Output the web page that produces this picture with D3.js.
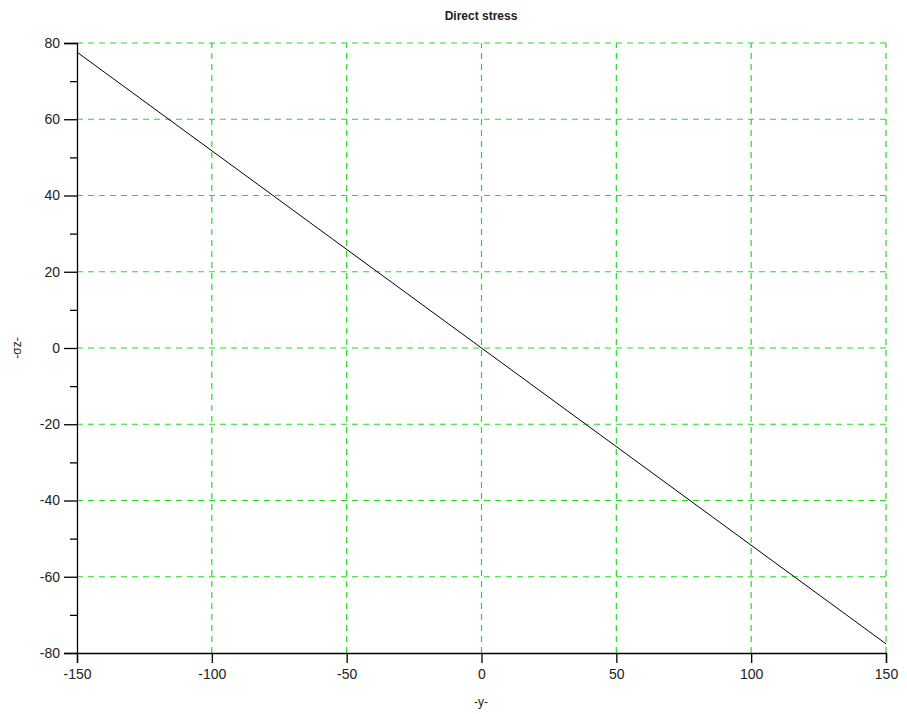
<!DOCTYPE html>
<html><head><meta charset="utf-8">
<script src="https://cdn.jsdelivr.net/npm/d3@7"></script>
<style>body{margin:0;background:#fff}svg{display:block}</style>
</head><body>
<svg id="c" width="907" height="714"></svg>
<script>
const yPos = [-150, 150];
const sigma = [77.6, -77.6];
const xTicks = [-150, -100, -50, 0, 50, 100, 150];
const yTicks = [-80, -60, -40, -20, 0, 20, 40, 60, 80];
const yMinor = [-70, -50, -30, -10, 10, 30, 50, 70];
const title = "Direct stress";
const xLabel = "-y-";
const yLabel = "-σz-";

const svg = d3.select("#c");
const x = d3.scaleLinear().domain([-150, 150]).range([77, 886]);
const y = d3.scaleLinear().domain([-80, 80]).range([653, 43]);
const font = "Liberation Sans, Arial, sans-serif";

// grid
const g = svg.append("g");
g.selectAll("line.v").data(xTicks.filter(d => d !== -150)).join("line")
  .attr("x1", d => x(d)).attr("x2", d => x(d)).attr("y1", y(-80)).attr("y2", y(80))
  .attr("stroke", "#22dd22").attr("stroke-width", 1.2).attr("stroke-dasharray", "6,5");
g.selectAll("line.h").data(yTicks.filter(d => d !== -80)).join("line")
  .attr("x1", x(-150)).attr("x2", x(150)).attr("y1", d => y(d)).attr("y2", d => y(d))
  .attr("stroke", "#22dd22").attr("stroke-width", 1.2).attr("stroke-dasharray", "6,5");

// axes
const fmt = d => String(d);
const xAxis = d3.axisBottom(x).tickValues(xTicks).tickSize(10).tickPadding(6).tickFormat(fmt);
const ax = svg.append("g").attr("transform", `translate(0,${y(-80)})`).call(xAxis);
const yAxis = d3.axisLeft(y).tickValues(yTicks).tickSize(13).tickPadding(4).tickFormat(fmt);
const ay = svg.append("g").attr("transform", `translate(${x(-150)},0)`).call(yAxis);
const yAxisMinor = d3.axisLeft(y).tickValues(yMinor).tickSize(7).tickFormat("");
const aym = svg.append("g").attr("transform", `translate(${x(-150)},0)`).call(yAxisMinor);
[ax, ay, aym].forEach(a => {
  a.selectAll("path").attr("stroke", "#000").attr("stroke-width", 1.3);
  a.selectAll("line").attr("stroke", "#000").attr("stroke-width", 1.3);
  a.selectAll("text").attr("font-family", font).attr("font-size", 14).attr("fill", "#222");
});
aym.select("path").remove();

// line
svg.append("path").datum(yPos.map((d, i) => [d, sigma[i]]))
  .attr("d", d3.line().x(d => x(d[0])).y(d => y(d[1])))
  .attr("fill", "none").attr("stroke", "#000").attr("stroke-width", 1);

// labels
svg.append("text").attr("x", 481).attr("y", 20).attr("text-anchor", "middle")
  .attr("font-family", font).attr("font-size", 12).attr("font-weight", "bold").attr("fill", "#222").text(title);
svg.append("text").attr("x", 481).attr("y", 706).attr("text-anchor", "middle")
  .attr("font-family", font).attr("font-size", 12).attr("fill", "#222").text(xLabel);
svg.append("text").attr("transform", "translate(21,348) rotate(-90)").attr("text-anchor", "middle")
  .attr("font-family", font).attr("font-size", 12).attr("fill", "#222").text(yLabel);
</script>
</body></html>
